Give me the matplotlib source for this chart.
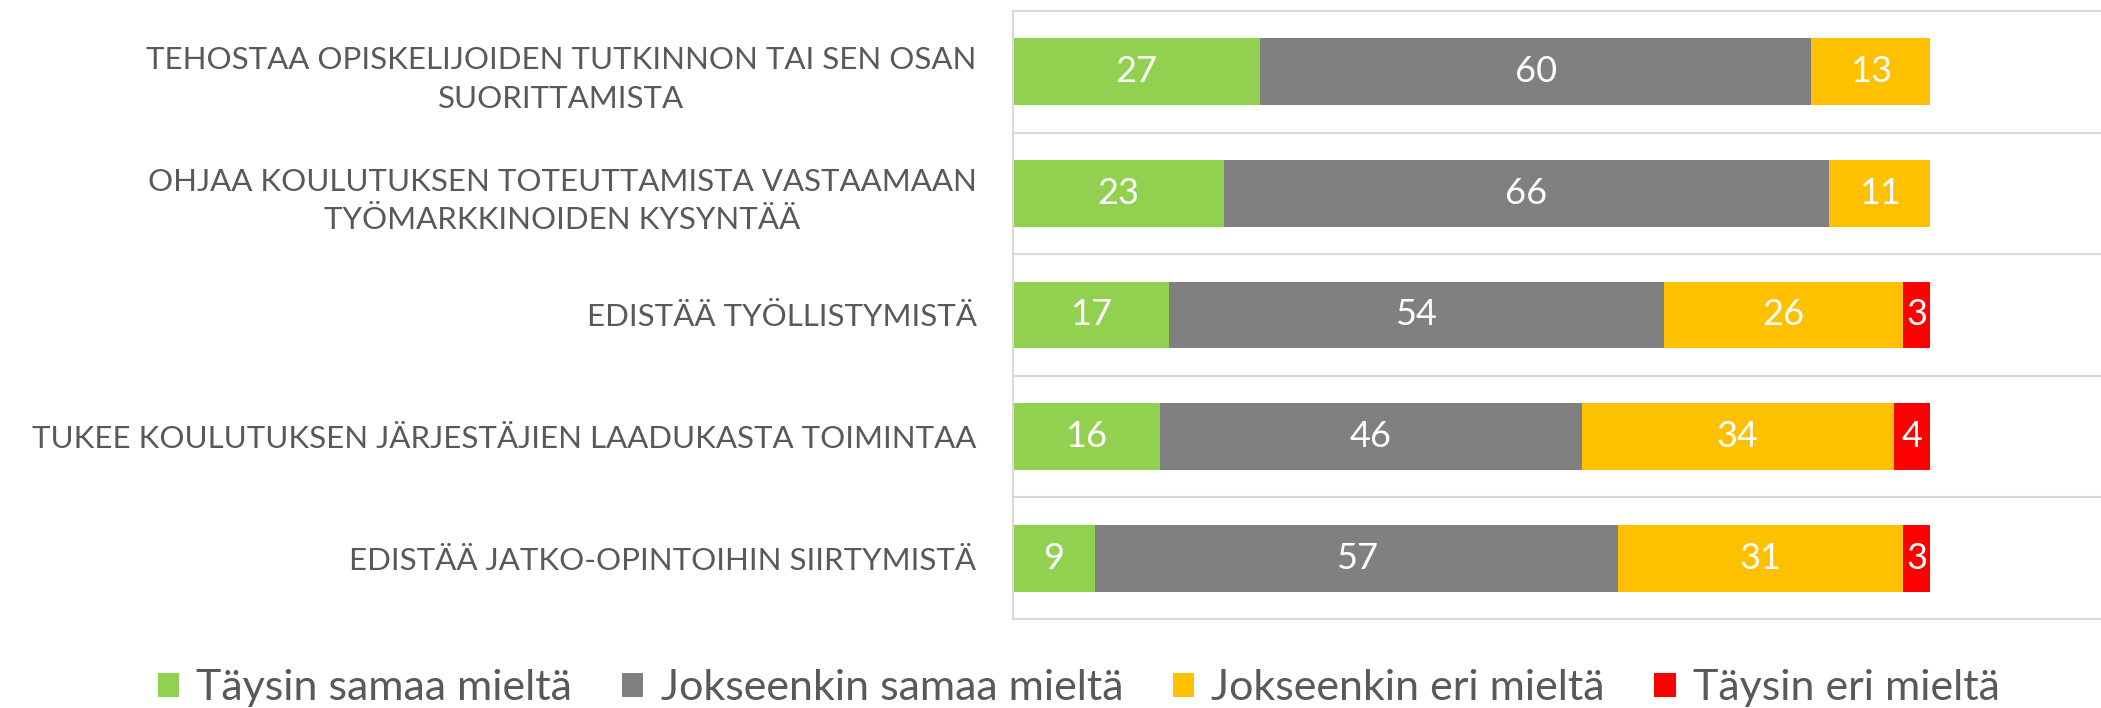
import numpy as np
import matplotlib
matplotlib.use("Agg")
import matplotlib.pyplot as plt

# data, top row first
labels = [
    "TEHOSTAA OPISKELIJOIDEN TUTKINNON TAI SEN OSAN\nSUORITTAMISTA",
    "OHJAA KOULUTUKSEN TOTEUTTAMISTA VASTAAMAAN\nTYÖMARKKINOIDEN KYSYNTÄÄ",
    "EDISTÄÄ TYÖLLISTYMISTÄ",
    "TUKEE KOULUTUKSEN JÄRJESTÄJIEN LAADUKASTA TOIMINTAA",
    "EDISTÄÄ JATKO-OPINTOIHIN SIIRTYMISTÄ",
]
series_names = ["Täysin samaa mieltä", "Jokseenkin samaa mieltä",
                "Jokseenkin eri mieltä", "Täysin eri mieltä"]
taysin_samaa = [27, 23, 17, 16, 9]
jokseenkin_samaa = [60, 66, 54, 46, 57]
jokseenkin_eri = [13, 11, 26, 34, 31]
taysin_eri = [0, 0, 3, 4, 3]

colors = ["#92D050", "#808080", "#FFC000", "#FF0000"]
grid_col = "#D9D9D9"
text_col = "#595959"

plt.rcParams['font.family'] = ['Lato', 'DejaVu Sans']

fig = plt.figure(figsize=(21.01, 7.08), dpi=100)
ax = fig.add_axes([0.482, 0.1257, 0.518, 0.8588])

y = np.arange(len(labels))
left = np.zeros(len(labels))
for name, vals, col in zip(series_names,
                           [taysin_samaa, jokseenkin_samaa, jokseenkin_eri, taysin_eri],
                           colors):
    vals = np.array(vals, dtype=float)
    bars = ax.barh(y, vals, left=left, height=0.55, color=col, label=name)
    for b, v in zip(bars, vals):
        if v > 0:
            ax.text(b.get_x() + b.get_width() / 2, b.get_y() + b.get_height() / 2,
                    f"{int(v)}", ha="center", va="center", color="white", fontsize=26)
    left += vals

ax.set_xlim(0, 118.6)
ax.set_ylim(len(labels) - 0.5, -0.5)
ax.set_xticks([])
ax.set_yticks(y)
ax.set_yticklabels(labels, fontsize=22.5, color=text_col)
for t in ax.get_yticklabels():
    t.set_multialignment("center")
    t.set_linespacing(1.45)
ax.tick_params(axis="y", length=0, pad=26)
ax.set_yticks(np.arange(0.5, len(labels) - 0.5, 1), minor=True)
ax.tick_params(axis="y", which="minor", length=0)
ax.grid(axis="y", which="minor", color=grid_col, linewidth=1.5)
for s in ["top", "bottom", "left"]:
    ax.spines[s].set_color(grid_col)
    ax.spines[s].set_linewidth(1.5)
ax.spines["right"].set_visible(False)

fig.legend(loc="center", bbox_to_anchor=(0.5135, 0.028), ncol=4, frameon=False,
           fontsize=31, labelcolor=text_col, handlelength=0.5, handleheight=0.5,
           handletextpad=0.4, columnspacing=1.15)

fig.savefig("out.png", dpi=100)
